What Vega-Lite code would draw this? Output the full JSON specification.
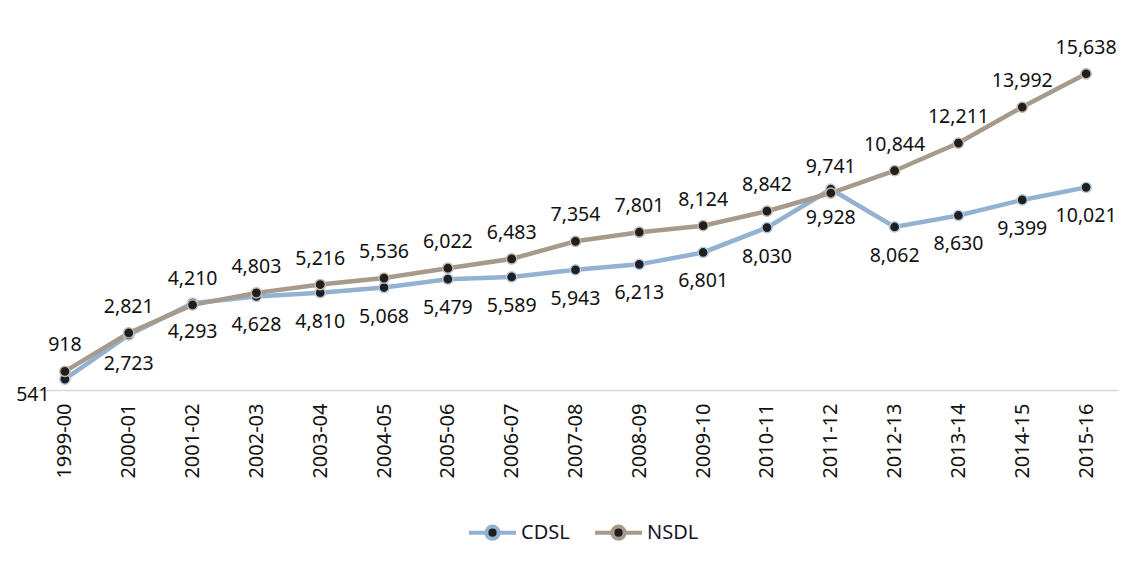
{
  "$schema": "https://vega.github.io/schema/vega-lite/v6.json",
  "width": 1085,
  "height": 364,
  "autosize": {"type": "none"},
  "padding": {"left": 33, "top": 26, "right": 17, "bottom": 171},
  "background": "white",
  "config": {"view": {"stroke": null}, "font": "Noto Sans"},
  "data": {"values": [
    {"period": "1999-00", "series": "CDSL", "value": 541},
    {"period": "2000-01", "series": "CDSL", "value": 2723},
    {"period": "2001-02", "series": "CDSL", "value": 4293},
    {"period": "2002-03", "series": "CDSL", "value": 4628},
    {"period": "2003-04", "series": "CDSL", "value": 4810},
    {"period": "2004-05", "series": "CDSL", "value": 5068},
    {"period": "2005-06", "series": "CDSL", "value": 5479},
    {"period": "2006-07", "series": "CDSL", "value": 5589},
    {"period": "2007-08", "series": "CDSL", "value": 5943},
    {"period": "2008-09", "series": "CDSL", "value": 6213},
    {"period": "2009-10", "series": "CDSL", "value": 6801},
    {"period": "2010-11", "series": "CDSL", "value": 8030},
    {"period": "2011-12", "series": "CDSL", "value": 9928},
    {"period": "2012-13", "series": "CDSL", "value": 8062},
    {"period": "2013-14", "series": "CDSL", "value": 8630},
    {"period": "2014-15", "series": "CDSL", "value": 9399},
    {"period": "2015-16", "series": "CDSL", "value": 10021},
    {"period": "1999-00", "series": "NSDL", "value": 918},
    {"period": "2000-01", "series": "NSDL", "value": 2821},
    {"period": "2001-02", "series": "NSDL", "value": 4210},
    {"period": "2002-03", "series": "NSDL", "value": 4803},
    {"period": "2003-04", "series": "NSDL", "value": 5216},
    {"period": "2004-05", "series": "NSDL", "value": 5536},
    {"period": "2005-06", "series": "NSDL", "value": 6022},
    {"period": "2006-07", "series": "NSDL", "value": 6483},
    {"period": "2007-08", "series": "NSDL", "value": 7354},
    {"period": "2008-09", "series": "NSDL", "value": 7801},
    {"period": "2009-10", "series": "NSDL", "value": 8124},
    {"period": "2010-11", "series": "NSDL", "value": 8842},
    {"period": "2011-12", "series": "NSDL", "value": 9741},
    {"period": "2012-13", "series": "NSDL", "value": 10844},
    {"period": "2013-14", "series": "NSDL", "value": 12211},
    {"period": "2014-15", "series": "NSDL", "value": 13992},
    {"period": "2015-16", "series": "NSDL", "value": 15638}
  ]},
  "encoding": {
    "x": {"field": "period", "type": "ordinal", "sort": null,
      "axis": {"title": null, "labelAngle": -90, "labelFontSize": 20, "labelColor": "#111111", "labelPadding": 13, "ticks": false, "domainColor": "#d9d9d9", "domainWidth": 1.5}},
    "y": {"field": "value", "type": "quantitative", "scale": {"domain": [0, 18000]}, "axis": null}
  },
  "layer": [
    {
      "mark": {"type": "line", "strokeWidth": 4.5},
      "encoding": {
        "color": {"field": "series", "type": "nominal",
          "scale": {"domain": ["CDSL", "NSDL"], "range": ["#93b1d1", "#a69a8b"]},
          "legend": {"title": null, "orient": "none", "direction": "horizontal", "legendX": 434, "legendY": 481,
            "labelFontSize": 20, "labelColor": "#15152a", "labelOffset": 3, "columnPadding": 17,
            "symbolType": "M-1,0L-0.26,0M0.26,0L1,0M0.26,0A0.26,0.26 0 1 1 -0.26,0A0.26,0.26 0 1 1 0.26,0Z",
            "symbolSize": 2209, "symbolStrokeWidth": 4, "symbolFillColor": "#1f1f1f", "symbolOpacity": 1}}
      }
    },
    {
      "mark": {"type": "point", "filled": true, "fill": "#1f1f1f", "size": 105, "strokeWidth": 1.5, "opacity": 1},
      "encoding": {
        "stroke": {"field": "series", "type": "nominal",
          "scale": {"domain": ["CDSL", "NSDL"], "range": ["#b5cbe3", "#c2b8aa"]}, "legend": null}
      }
    },
    {
      "transform": [{"filter": "datum.series == 'NSDL'"}],
      "mark": {"type": "text", "dy": -26, "fontSize": 19.5, "color": "#111111"},
      "encoding": {"text": {"field": "value", "type": "quantitative", "format": ","}}
    },
    {
      "transform": [{"filter": "datum.series == 'CDSL' && datum.period != '1999-00'"}],
      "mark": {"type": "text", "dy": 29, "fontSize": 19.5, "color": "#111111"},
      "encoding": {"text": {"field": "value", "type": "quantitative", "format": ","}}
    },
    {
      "transform": [{"filter": "datum.series == 'CDSL' && datum.period == '1999-00'"}],
      "mark": {"type": "text", "dx": -32, "dy": 16, "fontSize": 19.5, "color": "#111111"},
      "encoding": {"text": {"field": "value", "type": "quantitative", "format": ","}}
    }
  ]
}
